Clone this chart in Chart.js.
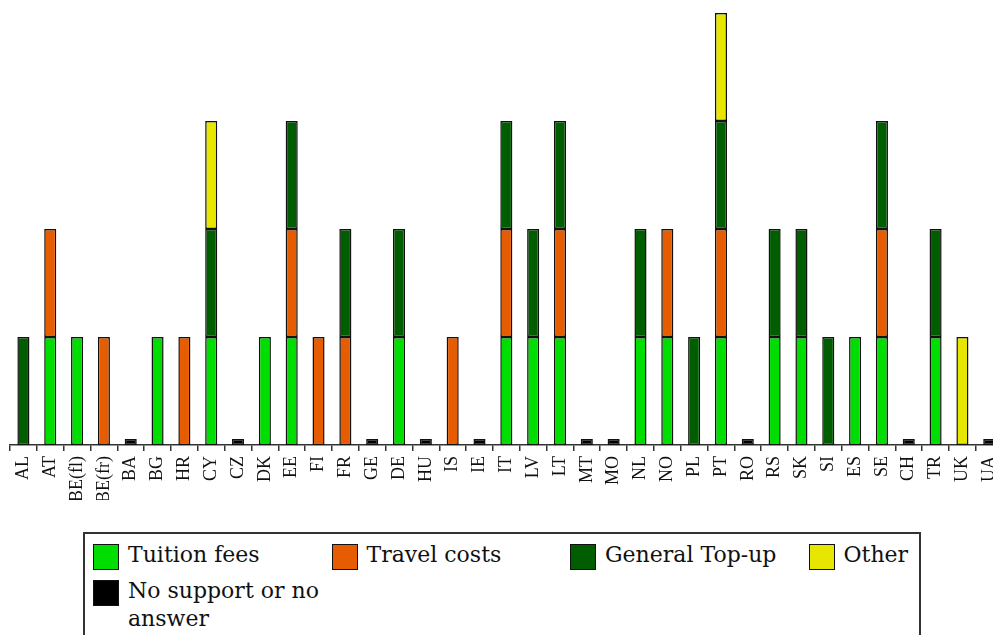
<!DOCTYPE html>
<html>
<head>
<meta charset="utf-8">
<script src="https://cdn.jsdelivr.net/npm/chart.js@4/dist/chart.umd.min.js"></script>
<style>
  html, body { margin: 0; padding: 0; background: #fff; overflow: hidden; }
  #page { position: relative; width: 993px; height: 635px; overflow: hidden; }
  #plotWrap { position: absolute; left: 0; top: 0; width: 1016px; height: 500px; overflow: hidden; }
  #legendBox {
    position: absolute; left: 83px; top: 532px; width: 818px; height: 120px;
    border: 2px solid #333; padding: 9px 8px 0 8px;
    font-family: "DejaVu Serif", serif; font-size: 22px; color: #111;
    display: grid; grid-template-columns: repeat(4, 238.5px); grid-auto-rows: 36px;
  }
  .item { display: flex; align-items: flex-start; }
  .swatch { width: 24px; height: 24px; border: 1px solid #111; flex: none; margin-top: 1px; }
  .label { margin-left: 9px; line-height: 28px; margin-top: -2px; width: 200px; }
</style>
</head>
<body>
<div id="page">
  <div id="plotWrap"><canvas id="supportChart" width="1016" height="520"></canvas></div>
  <div id="legendBox"></div>
</div>
<script>
const countries = ["AL", "AT", "BE(fl)", "BE(fr)", "BA", "BG", "HR", "CY", "CZ", "DK", "EE", "FI", "FR", "GE", "DE", "HU", "IS", "IE", "IT", "LV", "LT", "MT", "MO", "NL", "NO", "PL", "PT", "RO", "RS", "SK", "SI", "ES", "SE", "CH", "TR", "UK", "UA"];

const tuitionFees = [0, 1, 1, 0, 0, 1, 0, 1, 0, 1, 1, 0, 0, 0, 1, 0, 0, 0, 1, 1, 1, 0, 0, 1, 1, 0, 1, 0, 1, 1, 0, 1, 1, 0, 1, 0, 0];
const travelCosts = [0, 1, 0, 1, 0, 0, 1, 0, 0, 0, 1, 1, 1, 0, 0, 0, 1, 0, 1, 0, 1, 0, 0, 0, 1, 0, 1, 0, 0, 0, 0, 0, 1, 0, 0, 0, 0];
const generalTopUp = [1, 0, 0, 0, 0, 0, 0, 1, 0, 0, 1, 0, 1, 0, 1, 0, 0, 0, 1, 1, 1, 0, 0, 1, 0, 1, 1, 0, 1, 1, 1, 0, 1, 0, 1, 0, 0];
const other = [0, 0, 0, 0, 0, 0, 0, 1, 0, 0, 0, 0, 0, 0, 0, 0, 0, 0, 0, 0, 0, 0, 0, 0, 0, 0, 1, 0, 0, 0, 0, 0, 0, 0, 0, 1, 0];
// small marker for countries with no support
const noSupport = [0, 0, 0, 0, 0.055, 0, 0, 0, 0.055, 0, 0, 0, 0, 0.055, 0, 0.055, 0, 0.055, 0, 0, 0, 0.055, 0.055, 0, 0, 0, 0, 0.055, 0, 0, 0, 0, 0, 0.055, 0, 0, 0.055];

const seriesNames = ["Tuition fees", "Travel costs", "General Top-up", "Other", "No support or no answer"];
const seriesColors = ["#00dd00", "#e65c00", "#005e00", "#e6e600", "#000000"];
const seriesValues = [tuitionFees, travelCosts, generalTopUp, other, noSupport];

function makeDataset(i) {
  return {
    label: seriesNames[i],
    data: seriesValues[i].map((v) => (v === 0 ? null : v)),
    backgroundColor: seriesColors[i],
    borderColor: "#111",
    borderWidth: 1.5,
    borderSkipped: false,
    barPercentage: 0.9,
    categoryPercentage: 0.5,
  };
}

const config = {
  type: "bar",
  data: {
    labels: countries,
    datasets: seriesNames.map((n, i) => makeDataset(i)),
  },
  options: {
    responsive: false,
    animation: false,
    layout: { padding: { left: 10, right: 11, top: 13, bottom: 0 } },
    plugins: { legend: { display: false }, tooltip: { enabled: false } },
    scales: {
      x: {
        stacked: true,
        offset: true,
        grid: { offset: true, drawOnChartArea: false, drawTicks: true, tickLength: 6, color: "#333", lineWidth: 1.5 },
        border: { display: true, color: "#333", width: 1.5 },
        ticks: {
          autoSkip: false,
          minRotation: 90,
          maxRotation: 90,
          padding: 5,
          color: "#111",
          font: { family: "'Liberation Serif', serif", size: 18 },
        },
        afterFit: function (scale) {
          scale.height = 75;
        },
      },
      y: {
        stacked: true,
        display: false,
        min: 0,
        max: 4,
      },
    },
  },
};

const chart = new Chart(document.getElementById("supportChart"), config);

// html legend built from the chart datasets
const legendBox = document.getElementById("legendBox");
chart.data.datasets.forEach((ds) => {
  const item = document.createElement("div");
  item.className = "item";
  item.innerHTML = '<span class="swatch" style="background:' + ds.backgroundColor + '"></span><span class="label">' + ds.label + "</span>";
  legendBox.appendChild(item);
});
</script>
</body>
</html>
